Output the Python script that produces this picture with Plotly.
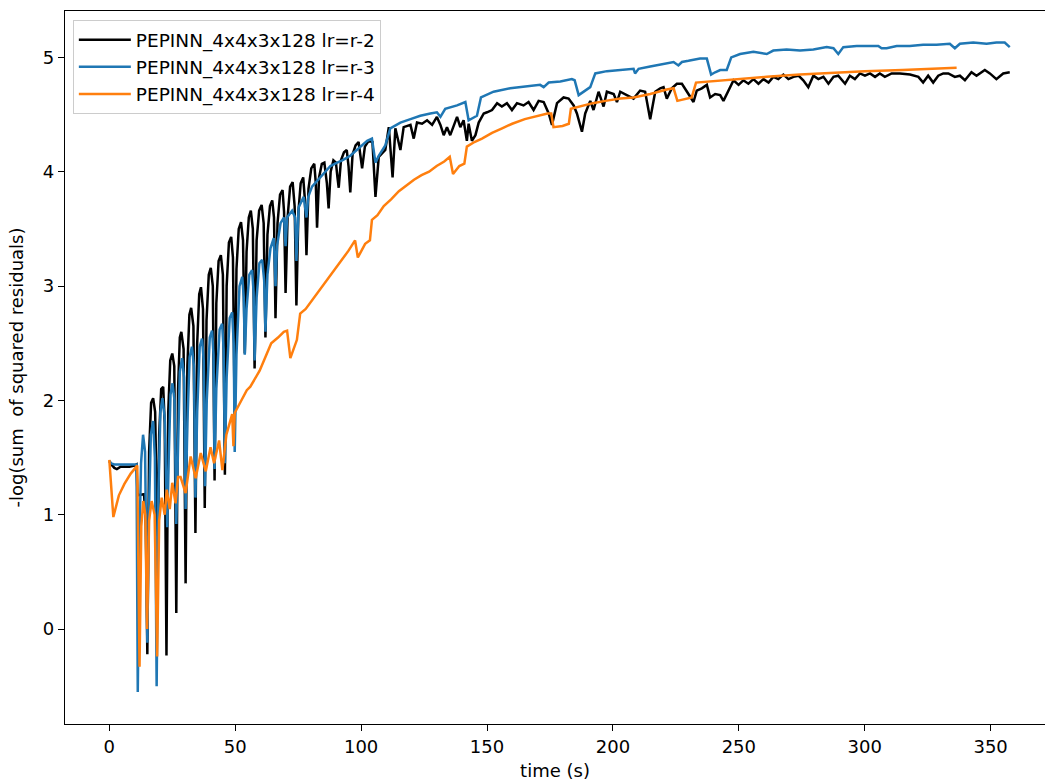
import plotly.graph_objects as go

# ---------------- data ----------------
names = ["PEPINN_4x4x3x128 lr=r-2", "PEPINN_4x4x3x128 lr=r-3", "PEPINN_4x4x3x128 lr=r-4"]
colors = ["#000000", "#1f77b4", "#ff7f0e"]

# lr = r-2 (black)
t_r2 = [0, 0.8, 2, 3, 4.5, 6, 8, 10, 10.8, 11.2, 13.8, 14.5, 15.1,
        15.8, 16.6, 17.4, 18.2, 18.7, 19.1,
        19.8, 20.6, 21.4, 22.0, 22.7,
        23.4, 24.2, 25.0, 25.8, 26.6,
        27.3, 28.0, 28.6, 29.5, 30.3,
        31.0, 31.8, 32.5, 33.4, 34.2,
        34.9, 35.7, 36.4, 37.2, 37.9,
        38.6, 39.5, 40.3, 41.1, 41.8,
        42.5, 43.4, 44.3, 45.1, 45.9,
        46.6, 47.5, 48.4, 49.1, 49.8,
        50.5, 51.4, 52.3, 53.1, 53.8,
        54.5, 55.4, 56.2, 57.0, 57.7,
        58.5, 59.5, 60.5, 61.3, 62.0,
        62.8, 63.8, 64.7, 65.4, 66.0,
        66.8, 67.8, 68.8, 69.4, 70.0,
        70.8, 71.8, 72.8, 73.6, 74.3,
        75.1, 76.0, 77.0, 77.7, 78.3,
        79.1, 80.2, 81.4, 82.0, 82.5,
        83.3, 84.4, 85.4, 86.4, 87.1,
        87.9, 89.0, 90.0, 90.6, 91.1,
        92.0, 93.2, 94.3, 95.0, 95.7,
        96.6, 97.8, 99.0, 100.4, 101.5, 103.0, 104.5, 105.7,
        107.0, 109.6, 111.0, 112.5, 113.6, 115.6, 116.9, 119.6, 120.9, 122.2,
        124.2, 126.2, 128.2, 130.1, 131.5, 132.8, 134.1, 135.4, 136.8, 138.1,
        139.4, 140.7, 142.0, 142.7, 144.0, 145.4, 146.7, 148.7, 150.0, 152.0,
        154.0, 155.9, 157.9, 159.9, 161.9, 164.5, 166.5, 168.5, 170.5, 172.5,
        174.5, 175.8, 177.8, 180.4, 182.4, 184.4, 185.7, 187.7, 189.0, 191.0,
        192.3, 194.3, 196.3, 197.6, 200.3, 201.6, 202.9, 205.5, 208.2, 210.8,
        212.8, 214.8, 216.8, 218.8, 220.1, 221.4, 223.4, 225.4, 227.4, 230.0,
        232.0, 233.3, 235.3, 237.3, 238.6, 240.6, 242.6, 243.9, 245.9, 247.9,
        249.9, 251.8, 253.8, 255.8, 257.8, 259.8, 261.8, 263.7, 265.7, 267.7,
        269.7, 271.7, 273.7, 275.6, 277.6, 279.6, 281.6, 283.6, 285.6, 287.6,
        289.5, 292.2, 294.1, 296.1, 298.1, 300.1, 302.1, 304.1, 306.0, 308.0,
        310.7, 314.0, 318.0, 321.3, 323.2, 325.2, 327.2, 329.2, 331.2, 333.2,
        335.8, 337.8, 339.8, 342.4, 344.4, 347.7, 349.7, 352.3, 355.0, 357.6]
v_r2 = [1.47, 1.44, 1.41, 1.40, 1.42, 1.42, 1.42, 1.43, 1.44, 1.17, 1.18, 0.90, -0.22,
        1.55, 1.98, 2.02, 1.90, 1.30, 0.30,
        1.70, 2.10, 2.12, 1.80, -0.23,
        1.90, 2.35, 2.41, 2.30, 0.14,
        2.10, 2.55, 2.60, 2.45, 0.40,
        2.30, 2.75, 2.81, 2.65, 0.84,
        2.50, 2.93, 2.99, 2.80, 1.06,
        2.70, 3.10, 3.16, 3.00, 1.30,
        2.85, 3.22, 3.27, 3.10, 1.35,
        3.00, 3.38, 3.43, 3.25, 1.82,
        3.15, 3.50, 3.56, 3.40, 2.41,
        3.30, 3.60, 3.66, 3.50, 2.28,
        3.40, 3.66, 3.71, 3.55, 2.55,
        3.45, 3.70, 3.75, 3.60, 2.72,
        3.55, 3.80, 3.84, 3.65, 2.94,
        3.60, 3.87, 3.91, 3.70, 2.83,
        3.65, 3.90, 3.95, 3.75, 3.27,
        3.85, 4.03, 4.07, 3.90, 3.51,
        3.95, 4.07, 4.08, 3.90, 3.68,
        4.00, 4.10, 4.08, 3.95, 3.86,
        4.10, 4.17, 4.19, 4.05, 3.82,
        4.15, 4.23, 4.26, 4.03, 4.22, 4.27, 4.26, 3.78,
        4.13, 4.19, 4.39, 3.95, 4.38, 4.19, 4.39, 4.41, 4.29, 4.43,
        4.42, 4.45, 4.41, 4.48, 4.41, 4.32, 4.39, 4.32, 4.41, 4.48,
        4.39, 4.45, 4.27, 4.42, 4.27, 4.32, 4.43, 4.51, 4.52, 4.54,
        4.60, 4.57, 4.60, 4.54, 4.60, 4.58, 4.61, 4.54, 4.62, 4.61,
        4.51, 4.41, 4.60, 4.65, 4.64, 4.58, 4.51, 4.35, 4.51, 4.62,
        4.54, 4.70, 4.57, 4.70, 4.68, 4.61, 4.70, 4.67, 4.64, 4.71,
        4.70, 4.46, 4.70, 4.73, 4.74, 4.64, 4.73, 4.77, 4.77, 4.68,
        4.61, 4.71, 4.73, 4.76, 4.65, 4.68, 4.67, 4.62, 4.71, 4.80,
        4.76, 4.80, 4.77, 4.81, 4.77, 4.81, 4.78, 4.83, 4.81, 4.85,
        4.81, 4.83, 4.84, 4.80, 4.74, 4.84, 4.81, 4.83, 4.77, 4.83,
        4.84, 4.77, 4.84, 4.81, 4.86, 4.84, 4.86, 4.83, 4.86, 4.83,
        4.86, 4.86, 4.85, 4.83, 4.78, 4.84, 4.78, 4.84, 4.86, 4.86,
        4.83, 4.84, 4.80, 4.87, 4.84, 4.89, 4.86, 4.81, 4.86, 4.87]

# lr = r-3 (blue)
t_r3 = [0, 0.7, 2, 4, 6, 8, 10.8, 11.3, 11.9, 12.6, 13.4, 14.2, 14.7, 15.1,
        15.7, 16.5, 17.4, 18.1, 18.8,
        19.5, 20.3, 21.1, 22.0, 22.6, 23.0,
        23.6, 24.3, 25.1, 25.9, 26.6,
        27.2, 28.0, 28.9, 29.7, 30.3,
        31.0, 31.9, 32.8, 33.6, 34.2,
        34.9, 35.9, 36.8, 37.5, 38.0,
        38.7, 39.9, 40.8, 41.4, 41.8,
        42.5, 43.8, 44.8, 45.4, 45.9,
        46.6, 47.8, 48.8, 49.4, 49.8,
        50.5, 51.7, 52.8, 53.4, 53.8,
        54.5, 55.6, 56.7, 57.3, 57.7,
        58.5, 59.6, 60.7, 61.5, 62.0,
        62.8, 64.0, 65.3, 65.7, 66.0,
        66.6, 68.0, 69.4, 70.0, 70.6, 72.6, 73.8, 74.3, 75.2, 77.2,
        78.3, 79.0, 80.5, 82.5, 85.2, 87.8, 90.5, 92.5, 95.7, 99.7,
        102.4, 104.3, 105.7, 107.0, 109.6, 111.6, 115.6, 119.6, 123.5, 127.5,
        130.1, 131.5, 133.4, 138.1, 141.4, 142.7, 146.0, 147.6, 152.6, 159.2,
        165.9, 171.1, 172.5, 174.5, 179.1, 183.7, 184.8, 186.4, 191.0, 193.0,
        197.6, 201.6, 208.2, 208.8, 210.2, 214.8, 221.4, 224.1, 226.0, 227.4,
        230.0, 234.6, 237.3, 239.0, 240.6, 242.6, 245.2, 247.0, 250.5, 255.8,
        261.1, 263.7, 269.0, 274.3, 279.6, 284.9, 287.6, 289.5, 291.5, 296.8,
        302.1, 305.4, 306.7, 308.7, 312.7, 317.9, 323.2, 328.5, 333.8, 335.8,
        337.8, 343.1, 348.4, 352.3, 355.6, 357.6]
v_r3 = [1.47, 1.45, 1.44, 1.44, 1.44, 1.44, 1.44, -0.55, 0.70, 1.45, 1.70, 1.55, 0.80, -0.12,
        1.00, 1.70, 1.82, 1.50, -0.50,
        1.20, 1.90, 2.02, 1.85, 1.30, 0.89,
        1.50, 2.05, 2.15, 2.00, 0.92,
        1.60, 2.25, 2.37, 2.20, 1.05,
        1.80, 2.38, 2.47, 2.30, 1.15,
        1.90, 2.47, 2.54, 2.35, 1.25,
        2.00, 2.55, 2.61, 2.40, 1.40,
        2.10, 2.62, 2.67, 2.45, 1.45,
        2.20, 2.72, 2.77, 2.50, 1.55,
        2.40, 3.00, 3.08, 2.90, 2.40,
        2.80, 3.10, 3.14, 2.95, 2.35,
        2.90, 3.20, 3.23, 3.05, 2.60,
        3.10, 3.33, 3.42, 3.20, 3.00,
        3.35, 3.55, 3.60, 3.35, 3.60, 3.66, 3.60, 3.22, 3.69, 3.78,
        3.60, 3.78, 3.87, 3.92, 3.99, 4.05, 4.08, 4.10, 4.14, 4.22,
        4.27, 4.29, 4.08, 4.14, 4.23, 4.38, 4.43, 4.46, 4.49, 4.51,
        4.52, 4.48, 4.55, 4.58, 4.61, 4.45, 4.49, 4.65, 4.70, 4.73,
        4.75, 4.76, 4.74, 4.78, 4.79, 4.81, 4.80, 4.67, 4.74, 4.86,
        4.88, 4.89, 4.90, 4.86, 4.90, 4.92, 4.95, 4.96, 4.93, 4.96,
        4.97, 4.99, 4.99, 4.85, 4.87, 4.89, 4.89, 5.00, 5.03, 5.05,
        5.03, 5.06, 5.07, 5.06, 5.07, 5.09, 5.08, 5.03, 5.09, 5.10,
        5.10, 5.10, 5.08, 5.08, 5.10, 5.10, 5.11, 5.11, 5.12, 5.08,
        5.12, 5.13, 5.12, 5.13, 5.13, 5.09]

# lr = r-4 (orange)
t_r4 = [0, 1.6, 3.8, 6, 8.5, 11.1, 12.0, 12.7, 13.5, 14.3, 15.0, 15.8, 16.8, 18.0, 19.0,
        19.8, 20.8, 22.0, 22.8, 24.0, 25.0, 26.3, 27.3, 28.3, 30.3, 32.3, 34.3, 36.3,
        38.3, 40.2, 41.6, 43.6, 44.9, 46.5, 47.5, 48.8, 49.3, 49.8, 51.0, 53.0, 54.6,
        56.0, 57.5, 59.7, 62.0, 64.3, 67.0, 69.3, 70.6, 71.9, 74.5, 75.8, 78.0, 80.0,
        82.0, 84.4, 87.0, 89.7, 92.0, 95.0, 97.6, 98.7, 101.6, 103.5, 104.3, 106.5,
        109.0, 112.0, 115.0, 118.0, 121.0, 124.0, 127.0, 130.0, 133.0, 135.2, 136.5,
        139.0, 141.0, 142.0, 145.0, 148.0, 152.0, 156.0, 160.0, 165.0, 170.0, 174.0,
        175.5, 176.4, 180.0, 182.5, 183.3, 187.0, 192.0, 197.0, 203.0, 208.2, 214.8,
        221.4, 224.1, 225.6, 231.3, 233.0, 238.6, 247.9, 261.1, 274.3, 290.2, 300.0,
        315.0, 325.0, 336.5]
v_r4 = [1.48, 0.98, 1.17, 1.27, 1.36, 1.43, -0.33, 0.90, 1.12, 1.00, 0.00, 0.95, 1.12, 1.00, -0.24,
        0.95, 1.15, 1.00, 1.22, 1.05, 1.28, 1.10, 1.33, 1.33, 1.19, 1.51, 1.32, 1.54,
        1.38, 1.59, 1.45, 1.65, 1.39, 1.70, 1.78, 1.88, 1.60, 1.89, 1.94, 2.03, 2.09,
        2.12, 2.18, 2.26, 2.38, 2.50, 2.55, 2.60, 2.61, 2.37, 2.53, 2.76, 2.80, 2.86,
        2.92, 2.99, 3.07, 3.15, 3.22, 3.31, 3.40, 3.25, 3.37, 3.40, 3.58, 3.62,
        3.70, 3.76, 3.83, 3.88, 3.93, 3.97, 4.00, 4.05, 4.09, 4.13, 3.98,
        4.05, 4.07, 4.22, 4.26, 4.29, 4.34, 4.38, 4.42, 4.46, 4.49, 4.51,
        4.51, 4.39, 4.40, 4.42, 4.55, 4.57, 4.60, 4.62, 4.64, 4.65, 4.68,
        4.72, 4.73, 4.62, 4.65, 4.78, 4.79, 4.81, 4.83, 4.85, 4.87, 4.88,
        4.89, 4.90, 4.91]

x_ticks = [0, 50, 100, 150, 200, 250, 300, 350]
y_ticks = [0, 1, 2, 3, 4, 5]
x_title = "time (s)"
y_title = "-log(sum\u00a0 of squared residuals)"

# ---------------- figure ----------------
FONT = "DejaVu Sans"
fig = go.Figure()
for t, v, n, c in zip([t_r2, t_r3, t_r4], [v_r2, v_r3, v_r4], names, colors):
    fig.add_trace(go.Scatter(x=t, y=v, mode="lines", name=n,
                             line=dict(color=c, width=2.5)))

axis_common = dict(showgrid=False, zeroline=False, showline=True, linecolor="#000000",
                   linewidth=1.3, ticks="outside", ticklen=6, tickwidth=1.3,
                   tickcolor="#000000", automargin=False,
                   tickfont=dict(family=FONT, size=18, color="#000000"))
fig.update_layout(
    width=1045, height=784,
    margin=dict(l=65, r=0, t=11, b=60),
    paper_bgcolor="white", plot_bgcolor="white",
    font=dict(family=FONT, size=18, color="#000000"),
    xaxis=dict(range=[-17.6, 371.6], tickvals=x_ticks, mirror=True,
               title=dict(text=x_title, standoff=8, font=dict(family=FONT, size=18)),
               **axis_common),
    yaxis=dict(range=[-0.83, 5.406], tickvals=y_ticks,
               title=dict(text=y_title, standoff=14, font=dict(family=FONT, size=18)),
               **axis_common),
    legend=dict(x=0.008, y=0.987, xanchor="left", yanchor="top",
                bgcolor="rgba(255,255,255,0.8)", bordercolor="#cccccc", borderwidth=1,
                font=dict(family=FONT, size=18.5, color="#000000"),
                tracegroupgap=0, itemwidth=52),
    showlegend=True,
)

fig.write_html("out.html")
